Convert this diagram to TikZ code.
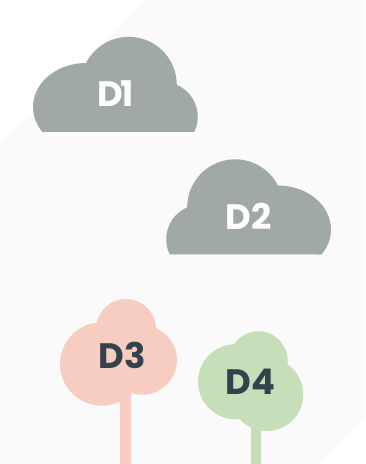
\documentclass[tikz,border=0pt]{standalone}
\usepackage{fontspec}
\setmainfont{Poppins}
\definecolor{bgpanel}{HTML}{FAFAFA}
\definecolor{cloudgrey}{HTML}{A1A9A6}
\definecolor{treepink}{HTML}{F7CDC2}
\definecolor{treegreen}{HTML}{C6DFB8}
\definecolor{labeldark}{HTML}{33424C}
\tikzset{
  cloudlabel/.style={text=white,font=\fontsize{26.5}{26.5}\selectfont\bfseries,inner sep=0pt},
  treelabel/.style={text=labeldark,font=\fontsize{26.5}{26.5}\selectfont\bfseries,inner sep=0pt}
}
\begin{document}
\begin{tikzpicture}[x=0.75pt,y=0.75pt]
\useasboundingbox (0,0) rectangle (365,-464);
\fill [white] (0,0) rectangle (365,-464);
\fill [bgpanel] (147,0) -- (365,0) -- (365,-417) -- (317,-464) -- (0,-464) -- (0,-144) -- cycle;
\fill [cloudgrey] (42.4,-132) arc [start angle=214.6,end angle=90,x radius=53,y radius=44] arc [start angle=153,end angle=0,radius=48] arc [start angle=66.4,end angle=-25.4,radius=35] -- cycle;
\fill [cloudgrey] (321.6,-254.5) arc [start angle=-34.6,end angle=90,x radius=53,y radius=44] arc [start angle=27,end angle=180,radius=48] arc [start angle=113.6,end angle=205.4,radius=35] -- cycle;
\fill [treepink] (120.3,-390) rectangle (130.7,-464);
\fill [treepink] (101.7,-364) circle (41.7);
\fill [treepink] (126,-329) circle (30);
\fill [treepink] (142.3,-360) circle (34.7);
\fill [treegreen] (251,-420) rectangle (261.3,-464);
\fill [treegreen] (235.6,-381.7) circle (37.6);
\fill [treegreen] (258.3,-360.7) circle (29.4);
\fill [treegreen] (266.7,-394.4) circle (36.6);
\node [cloudlabel] (d1) at (115.5,-94) {D\kern-1.5pt 1};
\node [cloudlabel] (d2) at (248.3,-216.7) {D2};
\node [treelabel] (d3) at (122,-355.7) {D3};
\node [treelabel] (d4) at (250.5,-381.7) {D4};
\end{tikzpicture}
\end{document}
